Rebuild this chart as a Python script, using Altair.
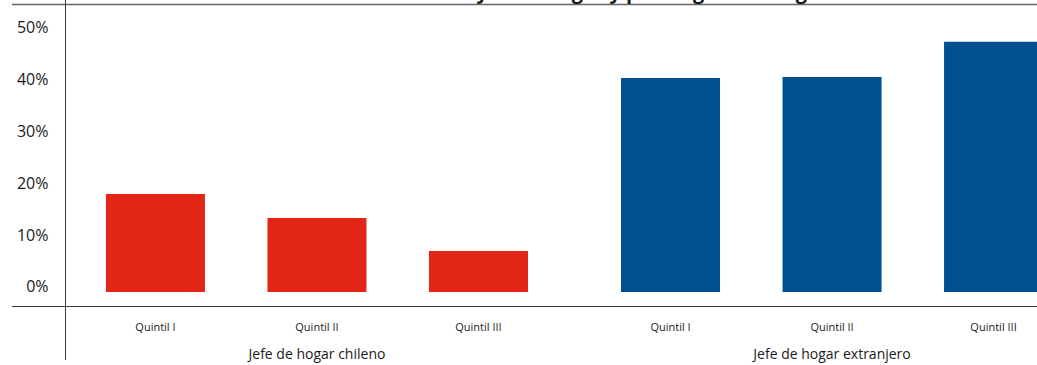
import altair as alt
import pandas as pd

# ---- data ----
grupos = ["Jefe de hogar chileno", "Jefe de hogar extranjero"]
quintiles = ["Quintil I", "Quintil II", "Quintil III"]
valores_chileno = [18.9, 14.3, 7.9]
valores_extranjero = [41.3, 41.5, 48.3]
y_ticks = [0, 10, 20, 30, 40, 50]
titulo = "Hacinamiento en la vivienda total y en el hogar y por origen del hogar"

colores = ["#E32516", "#00508F"]
FONT = "Open Sans"
TXT = "#1a1a1a"
LINE = "#3a3a3a"
GAP = 0.189  # extra space between the two groups, in bar steps

rows = []
for gi, (g, vals) in enumerate(zip(grupos, [valores_chileno, valores_extranjero])):
    for qi, (q, v) in enumerate(zip(quintiles, vals)):
        rows.append({"grupo": g, "quintil": q, "valor": v,
                     "pos": gi * (len(quintiles) + GAP) + qi})
df = pd.DataFrame(rows)

W, H = 972, 307
xscale = alt.Scale(domain=[-0.560, 5.458], nice=False, zero=False, padding=0)
yscale = alt.Scale(domain=[-2.896, 56.37], nice=False, zero=False, padding=0)

base = alt.Chart(df)

bars = base.mark_bar(size=99, orient="vertical", clip=True).encode(
    x=alt.X("pos:Q", scale=xscale, axis=None),
    y=alt.Y("valor:Q", scale=yscale,
            axis=alt.Axis(values=y_ticks, labelExpr="datum.value + '%'",
                          domain=False, ticks=False, grid=False,
                          labelFontSize=16, labelPadding=17, labelOffset=-5,
                          labelFont=FONT, labelColor=TXT, title=None)),
    y2=alt.datum(0),
    color=alt.Color("grupo:N", scale=alt.Scale(domain=grupos, range=colores), legend=None),
)

qlabels = base.mark_text(font=FONT, fontSize=11, color=TXT, baseline="middle").encode(
    x=alt.X("pos:Q", scale=xscale, axis=None),
    y=alt.value(328),
    text="quintil:N",
)

glabels = base.transform_aggregate(
    centro="mean(pos)", groupby=["grupo"]
).mark_text(font=FONT, fontSize=14, color=TXT, baseline="middle").encode(
    x=alt.X("centro:Q", scale=xscale, axis=None),
    y=alt.value(355),
    text="grupo:N",
)

one = alt.Chart(pd.DataFrame([{"k": 0}]))
hline = one.mark_rule(color=LINE, strokeWidth=1).encode(
    x=alt.value(-53), x2=alt.value(W), y=alt.value(306.5))
topline = one.mark_rule(color="#666666", strokeWidth=1.5).encode(
    x=alt.value(-53), x2=alt.value(W), y=alt.value(4.5))
vline = one.mark_rule(color=LINE, strokeWidth=1).encode(
    x=alt.value(0.5), y=alt.value(-5), y2=alt.value(360))

title = one.mark_text(font=FONT, fontSize=20, fontWeight="bold", color=TXT,
                      align="center", baseline="alphabetic").encode(
    x=alt.value(416), y=alt.value(-1.5), text=alt.value(titulo))

chart = alt.layer(bars, qlabels, glabels, hline, topline, vline, title).properties(
    width=W, height=H,
    padding={"left": 65, "top": 0, "right": 0, "bottom": 58},
    autosize=alt.AutoSizeParams(type="none"),
    background="white",
).configure_view(stroke=None)

chart.save("out.html", embed_options={"renderer": "svg", "actions": False})
